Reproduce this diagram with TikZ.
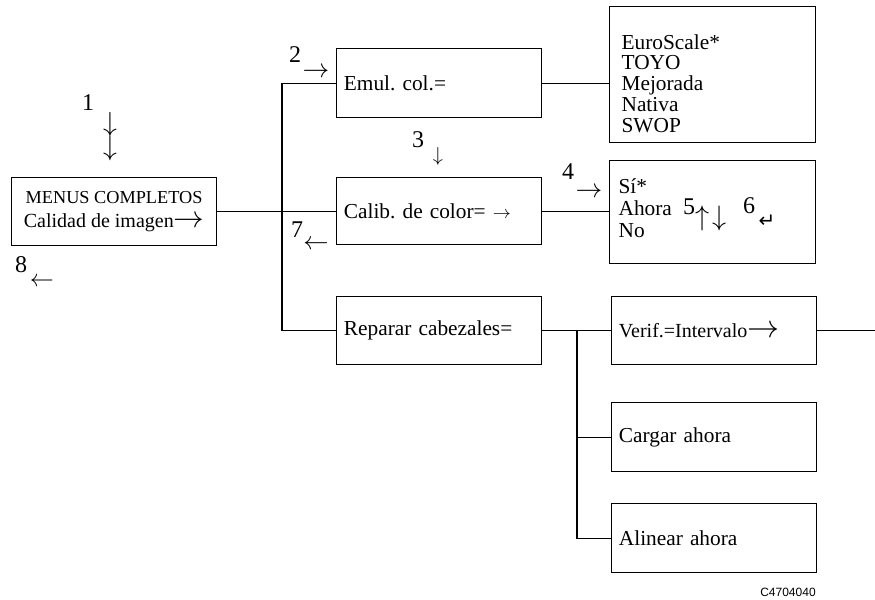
\documentclass[tikz,border=0pt]{standalone}
\usepackage{fontspec}
\usepackage{graphicx}
\setmainfont{Liberation Serif}
\newfontfamily\symfont{DejaVu Sans}
\newfontfamily\labfont{Liberation Sans}
\newcommand\harr[2]{\resizebox{#1}{!}{$#2$}}
\newcommand\varr[2]{\resizebox*{!}{#1}{$#2$}}
\frenchspacing
\begin{document}
\begin{tikzpicture}[x=0.75pt,y=-0.75pt,line width=0.9pt,
  box/.style={draw,line width=0.9pt,inner sep=0pt,anchor=north west,font=\fontsize{16}{19}\selectfont},
  lbox/.style={box,align=left,inner xsep=5.5pt,text width=142.75pt,minimum width=153.75pt},
  list/.style={inner sep=0pt,anchor=west,align=left},
  num/.style={inner sep=0pt,font=\fontsize{18}{18}\selectfont},
  arr/.style={inner sep=0pt},
  conn/.style={draw,line width=0.9pt}]
\useasboundingbox (0,0) rectangle (875,600);
% boxes
\node[box,minimum width=153.75pt,minimum height=51pt,align=center] (menu) at (11,177)
  {{\fontsize{13.7}{15}\selectfont MENUS COMPLETOS}\\[-1pt]{\fontsize{15}{17}\selectfont Calidad de imagen}\harr{23pt}{\rightarrow}};
\node[lbox,minimum height=51.75pt] (emul) at (336,48) {Emul. col.=};
\node[lbox,minimum height=50.25pt] (calib) at (336,177) {Calib. de color= \harr{13.5pt}{\rightarrow}};
\node[lbox,minimum height=51pt] (rep) at (336,296) {Reparar cabezales=};
\node[lbox,minimum height=51pt] (verif) at (611,296) {{\fontsize{15}{17}\selectfont Verif.=Intervalo}\harr{24pt}{\rightarrow}};
\node[lbox,minimum height=51.75pt] (carg) at (611,402) {Cargar ahora};
\node[lbox,minimum height=51.75pt] (alin) at (611,503) {Alinear ahora};
\node[box,minimum width=154.5pt,minimum height=102pt] (euro) at (609,6) {};
\node[box,minimum width=154.5pt,minimum height=77.25pt] (si) at (609,160) {};
% list texts
\node[list,font=\fontsize{16}{15.6}\selectfont] (eurot) at (621,83.4)
  {EuroScale*\\TOYO\\Mejorada\\Nativa\\SWOP};
\node[list,font=\fontsize{16}{16.6}\selectfont] (sit) at (618,208) {Sí*\\Ahora\\No};
% step labels
\node[num] (n1) at (88,103) {1};
\node[arr] (a1) at (110,136.5) {\vbox{\offinterlineskip\hbox{\varr{18.4pt}{\downarrow}}\hbox{\varr{18.4pt}{\downarrow}}}};
\node[num] (n2) at (295,55) {2};
\node[arr] (a2) at (316,73) {\harr{20pt}{\rightarrow}};
\node[num] (n3) at (418,140) {3};
\node[arr] (a3) at (438,156) {\varr{13.5pt}{\downarrow}};
\node[num] (n4) at (568,172) {4};
\node[arr] (a4) at (589,193) {\harr{20pt}{\rightarrow}};
\node[num] (n5) at (689,207) {5};
\node[arr] (a5) at (711,218) {\varr{18.75pt}{\uparrow}\kern1.5pt\varr{18.75pt}{\downarrow}};
\node[num] (n6) at (749,206) {6};
\node[inner sep=0pt,font=\symfont\fontsize{15}{15}\selectfont] (a6) at (767,221) {↵};
\node[num] (n7) at (297,230) {7};
\node[arr] (a7) at (316,245) {\harr{19pt}{\leftarrow}};
\node[num] (n8) at (21,265) {8};
\node[arr] (a8) at (42,282) {\harr{18pt}{\leftarrow}};
\node[inner sep=0pt,font=\labfont\fontsize{9}{9}\selectfont] (code) at (788,592) {C4704040};
% connectors
\coordinate (busx) at (282,0);
\coordinate (br) at (577,0);
\coordinate (rend) at (875,0);
\path[conn] (emul.west) -- (emul.west -| busx) |- (rep.west);
\path[conn] (menu.east) -- (menu.east -| calib.west);
\path[conn] (emul.east) -- (emul.east -| euro.west);
\path[conn] (calib.east) -- (calib.east -| si.west);
\path[conn] (rep.east) -- (rep.east -| verif.west);
\path[conn] (br |- verif.west) |- (alin.west);
\path[conn] (br |- carg.west) -- (carg.west);
\path[conn] (verif.east) -- (verif.east -| rend);
\end{tikzpicture}
\end{document}
